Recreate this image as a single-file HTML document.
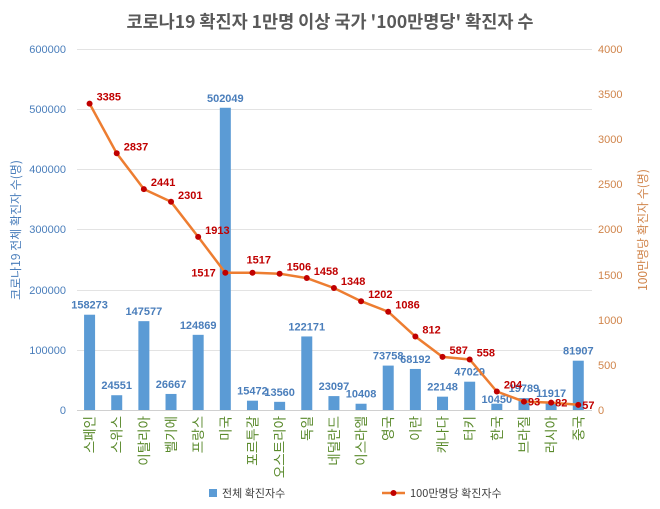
<!DOCTYPE html>
<html><head><meta charset="utf-8"><style>
body{margin:0;background:#fff;}
.wrap{position:relative;width:660px;height:509px;overflow:hidden;font-family:"Liberation Sans","Noto Sans CJK KR",sans-serif;}
</style></head><body><div class="wrap">
<svg width="660" height="509" style="position:absolute;left:0;top:0" font-family="Liberation Sans, Noto Sans CJK KR, sans-serif">
<text x="330" y="28" text-anchor="middle" font-size="17.5" font-weight="bold" fill="#595959" font-family="Noto Sans CJK KR, sans-serif">코로나19 확진자 1만명 이상 국가 '100만명당' 확진자 수</text>
<g stroke="#e3e3e3" stroke-width="1">
<line x1="77" x2="592" y1="49.5" y2="49.5"/><line x1="77" x2="592" y1="109.5" y2="109.5"/><line x1="77" x2="592" y1="169.5" y2="169.5"/><line x1="77" x2="592" y1="229.5" y2="229.5"/><line x1="77" x2="592" y1="290.5" y2="290.5"/><line x1="77" x2="592" y1="350.5" y2="350.5"/><line x1="77" x2="592" y1="410.5" y2="410.5" stroke="#d0d0d0"/>
</g>
<g font-size="11" fill="#4a7ebb" text-anchor="end">
<text x="66" y="53">600000</text><text x="66" y="113">500000</text><text x="66" y="173">400000</text><text x="66" y="233">300000</text><text x="66" y="294">200000</text><text x="66" y="354">100000</text><text x="66" y="414">0</text>
</g>
<g font-size="11" fill="#d0844a" text-anchor="start">
<text x="598" y="53">4000</text><text x="598" y="98">3500</text><text x="598" y="143">3000</text><text x="598" y="188">2500</text><text x="598" y="233">2000</text><text x="598" y="279">1500</text><text x="598" y="324">1000</text><text x="598" y="369">500</text><text x="598" y="414">0</text>
</g>
<text transform="translate(20,230) rotate(-90)" text-anchor="middle" font-size="12" fill="#4a7ebb" font-family="Noto Sans CJK KR, sans-serif">코로나19 전체 확진자 수(명)</text>
<text transform="translate(647,230) rotate(-90)" text-anchor="middle" font-size="12" fill="#d0844a" font-family="Noto Sans CJK KR, sans-serif">100만명당 확진자 수(명)</text>
<g id="bars" fill="#5b9bd5"></g>
<g id="blab" font-size="11" font-weight="bold" fill="#4a7ebb" text-anchor="middle"></g>
<polyline id="ln" fill="none" stroke="#ed7d31" stroke-width="2.5"/>
<g id="pts" fill="#c00000"></g>
<g id="llab" font-size="11" font-weight="bold" fill="#c00000"></g>
<g id="cats" font-size="13.5" fill="#5a8a2c" text-anchor="end" font-family="Noto Sans CJK KR, sans-serif"></g>
<rect x="209" y="489" width="8" height="8" fill="#5b9bd5"/>
<text x="222" y="497" font-size="11" fill="#404040" font-family="Noto Sans CJK KR, sans-serif">전체 확진자수</text>
<line x1="382" x2="405" y1="493" y2="493" stroke="#ed7d31" stroke-width="2.5"/>
<circle cx="393.5" cy="493" r="3" fill="#c00000"/>
<text x="410" y="497" font-size="11" fill="#404040" font-family="Noto Sans CJK KR, sans-serif">100만명당 확진자수</text>
</svg>
</div>
<script>
var names=["스페인","스위스","이탈리아","벨기에","프랑스","미국","포르투갈","오스트리아","독일","네덜란드","이스라엘","영국","이란","캐나다","터키","한국","브라질","러시아","중국"];
var tot=[158273,24551,147577,26667,124869,502049,15472,13560,122171,23097,10408,73758,68192,22148,47029,10450,19789,11917,81907];
var per=[3385,2837,2441,2301,1913,1517,1517,1506,1458,1348,1202,1086,812,587,558,204,93,82,57];
var ns="http://www.w3.org/2000/svg";
function el(t,a,txt){var e=document.createElementNS(ns,t);for(var k in a)e.setAttribute(k,a[k]);if(txt!=null)e.textContent=txt;return e;}
var bars=document.getElementById("bars"),bl=document.getElementById("blab"),pts=document.getElementById("pts"),ll=document.getElementById("llab"),cats=document.getElementById("cats");
var p=[];
for(var i=0;i<19;i++){
 var x=76+27.15*(i+0.5);
 var yb=410-tot[i]*0.000602;
 bars.appendChild(el("rect",{x:x-5.5,y:yb,width:11,height:410-yb}));
 var by=yb-6; if(i==15) by=403; 
 bl.appendChild(el("text",{x:x,y:by},tot[i]));
 var yl=410-per[i]*0.0905;
 p.push(x.toFixed(1)+","+yl.toFixed(1));
 pts.appendChild(el("circle",{cx:x,cy:yl,r:3}));
 var lx=x+7,ly=yl-3;
 if(i==5){lx=x-34;ly=yl+4;} else if(i==6){lx=x-6;ly=yl-9;} else if(i>=16){lx=x+4;ly=yl+4;}
 ll.appendChild(el("text",{x:lx,y:ly},per[i]));
 cats.appendChild(el("text",{transform:"translate("+(x+5).toFixed(1)+",416) rotate(-90)"},names[i]));
}
document.getElementById("ln").setAttribute("points",p.join(" "));
</script>
</body></html>
